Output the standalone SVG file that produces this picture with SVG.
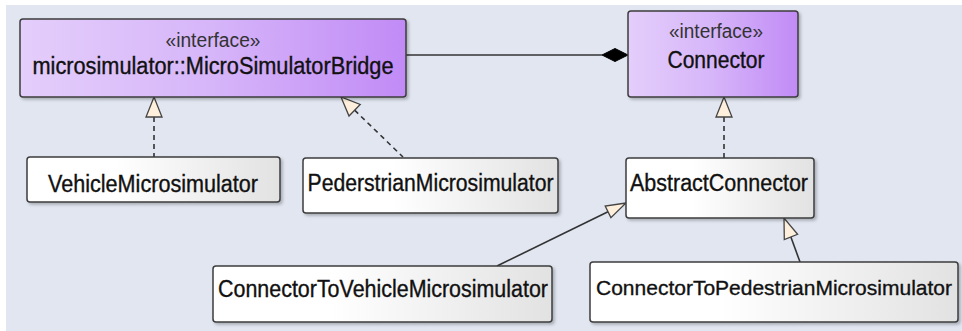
<svg xmlns="http://www.w3.org/2000/svg" width="962" height="331" viewBox="0 0 962 331">
  <defs>
    <linearGradient id="gIf" x1="0" y1="0" x2="1" y2="0">
      <stop offset="0" stop-color="#e4cefb"/>
      <stop offset="0.5" stop-color="#d6b5f9"/>
      <stop offset="1" stop-color="#c18bf6"/>
    </linearGradient>
    <linearGradient id="gCl" x1="0" y1="0" x2="1" y2="0">
      <stop offset="0" stop-color="#ffffff"/>
      <stop offset="0.35" stop-color="#ffffff"/>
      <stop offset="1" stop-color="#e2e2e2"/>
    </linearGradient>
    <filter id="sh" x="-5%" y="-10%" width="115%" height="130%">
      <feDropShadow dx="2" dy="2" stdDeviation="1.5" flood-color="#000" flood-opacity="0.25"/>
    </filter>
  </defs>
  <style>
    .iface { fill: url(#gIf); stroke: #3d3d3d; stroke-width: 1.5; filter: url(#sh); }
    .cls { fill: url(#gCl); stroke: #3d3d3d; stroke-width: 1.5; filter: url(#sh); }
    .st { font-family: "Liberation Sans", Arial, sans-serif; font-size: 20px; fill: #333; text-anchor: middle; }
    .nm { font-family: "Liberation Sans", Arial, sans-serif; font-size: 23px; fill: #111; stroke: #111; stroke-width: 0.35; text-anchor: middle; }
    .ln { stroke: #333; stroke-width: 1.6; fill: none; }
    .dash { stroke-dasharray: 5 4; }
    .tri { fill: #fdefdb; stroke: #444; stroke-width: 1.3; stroke-linejoin: miter; }
    .dia { fill: #000; stroke: #000; stroke-width: 1; }
  </style>
  <rect x="0" y="0" width="962" height="331" fill="#ffffff"/>
  <rect x="6" y="5" width="956" height="326" fill="#e1e6f1"/>

  <g id="connectors">
    <line class="ln" x1="406" y1="55" x2="602" y2="55"/>
    <polygon class="dia" points="602,55 615,48.5 628,55 615,61.5"/>

    <line class="ln dash" x1="154" y1="117" x2="154" y2="157"/>
    <polygon class="tri" points="154,97 146,117 162,117"/>

    <line class="ln dash" x1="354.6" y1="110.2" x2="403" y2="157"/>
    <polygon class="tri" points="341,97 349,116 360.2,104.5"/>

    <line class="ln dash" x1="724" y1="117" x2="724" y2="158"/>
    <polygon class="tri" points="724,97 716,117 732,117"/>

    <line class="ln" x1="608" y1="211.8" x2="497" y2="266"/>
    <polygon class="tri" points="626,203 605.2,206 610.9,217.6"/>

    <line class="ln" x1="790.8" y1="236.8" x2="800" y2="262"/>
    <polygon class="tri" points="784,218 784.3,239.5 797.6,234.3"/>
  </g>

  <g id="MicroSimulatorBridge">
    <rect class="iface" x="20" y="19" width="386" height="78" rx="3"/>
    <text class="st" x="213" y="47" textLength="95" lengthAdjust="spacingAndGlyphs">«interface»</text>
    <text class="nm" x="213" y="74" textLength="361" lengthAdjust="spacingAndGlyphs">microsimulator::MicroSimulatorBridge</text>
  </g>

  <g id="Connector">
    <rect class="iface" x="628" y="11" width="170" height="86" rx="3"/>
    <text class="st" x="716" y="38" textLength="94" lengthAdjust="spacingAndGlyphs">«interface»</text>
    <text class="nm" x="716" y="68" textLength="97" lengthAdjust="spacingAndGlyphs">Connector</text>
  </g>

  <g id="VehicleMicrosimulator">
    <rect class="cls" x="27" y="157" width="253" height="45" rx="3"/>
    <text class="nm" x="153" y="192" textLength="210" lengthAdjust="spacingAndGlyphs">VehicleMicrosimulator</text>
  </g>

  <g id="PederstrianMicrosimulator">
    <rect class="cls" x="303" y="158" width="255" height="55" rx="3"/>
    <text class="nm" x="430.5" y="191" textLength="246" lengthAdjust="spacingAndGlyphs">PederstrianMicrosimulator</text>
  </g>

  <g id="AbstractConnector">
    <rect class="cls" x="626" y="158" width="188" height="60" rx="3"/>
    <text class="nm" x="719" y="191" textLength="178" lengthAdjust="spacingAndGlyphs">AbstractConnector</text>
  </g>

  <g id="ConnectorToVehicleMicrosimulator">
    <rect class="cls" x="213" y="266" width="339" height="56" rx="3"/>
    <text class="nm" x="383" y="297" textLength="330" lengthAdjust="spacingAndGlyphs">ConnectorToVehicleMicrosimulator</text>
  </g>

  <g id="ConnectorToPedestrianMicrosimulator">
    <rect class="cls" x="590" y="262" width="368" height="60" rx="3"/>
    <text class="nm" x="774" y="295" font-size="21px" textLength="356" lengthAdjust="spacingAndGlyphs" style="font-size:21px">ConnectorToPedestrianMicrosimulator</text>
  </g>
</svg>
